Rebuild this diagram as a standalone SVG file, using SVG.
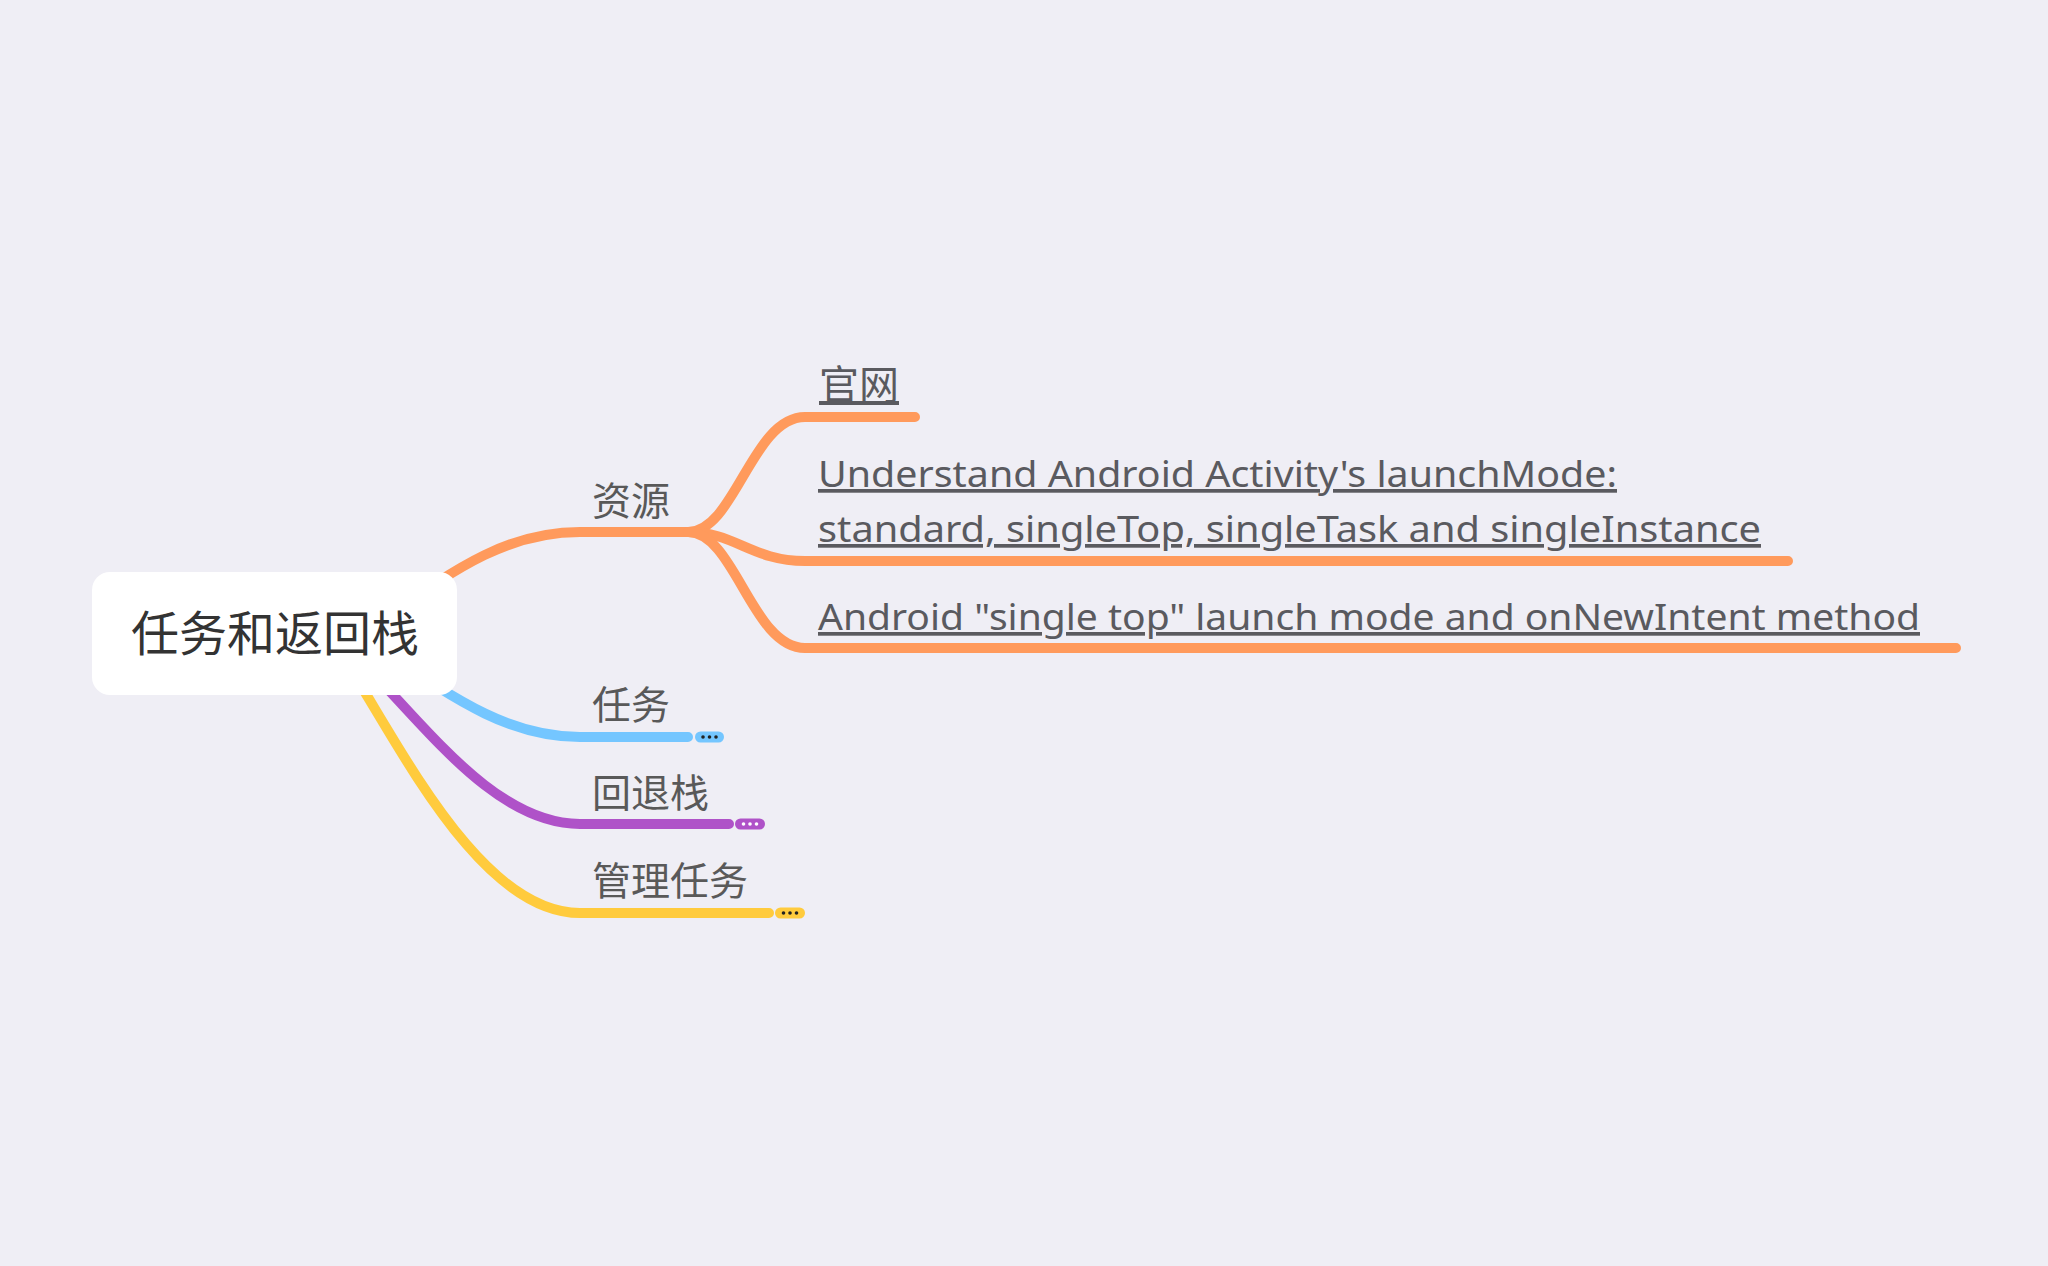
<svg xmlns="http://www.w3.org/2000/svg" width="2048" height="1266" viewBox="0 0 2048 1266">
  <style>
    .bg { fill: #EFEEF5; }
    .conn { fill: none; stroke-width: 10; stroke-linecap: round; stroke-linejoin: round; }
    .orange { stroke: #FF9A5C; }
    .blue { stroke: #74C6FF; }
    .purple { stroke: #AF52C8; }
    .yellow { stroke: #FFCB3D; }
    .root-box { fill: #FFFFFF; }
    .root-text { font-family: "Noto Sans CJK SC", "Noto Sans", sans-serif; font-size: 48px; fill: #333333; }
    .label { font-family: "Noto Sans CJK SC", "Noto Sans", sans-serif; font-size: 39px; fill: #595959; }
    .link { font-family: "Noto Sans", "Noto Sans CJK SC", sans-serif; font-size: 37px; fill: #5a5a5f; text-decoration: underline; }
    .link-cjk { font-family: "Noto Sans CJK SC", "Noto Sans", sans-serif; font-size: 40px; fill: #5a5a5f; text-decoration: underline; }
    .dot-dark { fill: #222222; }
    .dot-light { fill: #FFFFFF; }
  </style>
  <rect class="bg" x="0" y="0" width="2048" height="1266"/>

  <g id="connectors">
    <path class="conn orange" d="M385,618 C460,565 510,532 580,532 L690,532"/>
    <path class="conn orange" d="M688,532 C735,532 752,417 805,417 L915,417"/>
    <path class="conn orange" d="M688,532 C735,532 752,561 805,561 L1788,561"/>
    <path class="conn orange" d="M688,532 C735,532 752,648 805,648 L1956,648"/>
    <path class="conn blue" d="M385,652 C460,703 512,737 580,737 L688,737"/>
    <path class="conn purple" d="M360,660 C425,725 495,824 580,824 L729,824"/>
    <path class="conn yellow" d="M345,660 C400,745 480,913 580,913 L769,913"/>
  </g>

  <g id="root">
    <rect class="root-box" x="92" y="572" width="365" height="123" rx="18" ry="18"/>
    <text class="root-text" x="275" y="651" text-anchor="middle">任务和返回栈</text>
  </g>

  <g id="node-resources">
    <text class="label" x="592" y="515">资源</text>
  </g>

  <g id="node-official">
    <text class="link-cjk" x="819" y="399">官网</text>
  </g>

  <g id="node-understand">
    <text class="link" x="818" y="487" textLength="799" lengthAdjust="spacingAndGlyphs">Understand Android Activity's launchMode:</text>
    <text class="link" x="818" y="542" textLength="943" lengthAdjust="spacingAndGlyphs">standard, singleTop, singleTask and singleInstance</text>
  </g>

  <g id="node-singletop">
    <text class="link" x="818" y="630" textLength="1102" lengthAdjust="spacingAndGlyphs">Android "single top" launch mode and onNewIntent method</text>
  </g>

  <g id="node-tasks">
    <text class="label" x="592" y="719">任务</text>
    <rect x="695" y="731.5" width="29" height="11" rx="5.5" fill="#74C6FF"/>
    <circle class="dot-dark" cx="703" cy="737" r="1.8"/>
    <circle class="dot-dark" cx="709.5" cy="737" r="1.8"/>
    <circle class="dot-dark" cx="716" cy="737" r="1.8"/>
  </g>

  <g id="node-backstack">
    <text class="label" x="592" y="807">回退栈</text>
    <rect x="735" y="818.5" width="30" height="11" rx="5.5" fill="#AF52C8"/>
    <circle class="dot-light" cx="743.5" cy="824" r="1.8"/>
    <circle class="dot-light" cx="750" cy="824" r="1.8"/>
    <circle class="dot-light" cx="756.5" cy="824" r="1.8"/>
  </g>

  <g id="node-manage">
    <text class="label" x="592" y="895">管理任务</text>
    <rect x="775" y="907.5" width="30" height="11" rx="5.5" fill="#FFCB3D"/>
    <circle class="dot-dark" cx="783.5" cy="913" r="1.8"/>
    <circle class="dot-dark" cx="790" cy="913" r="1.8"/>
    <circle class="dot-dark" cx="796.5" cy="913" r="1.8"/>
  </g>
</svg>
